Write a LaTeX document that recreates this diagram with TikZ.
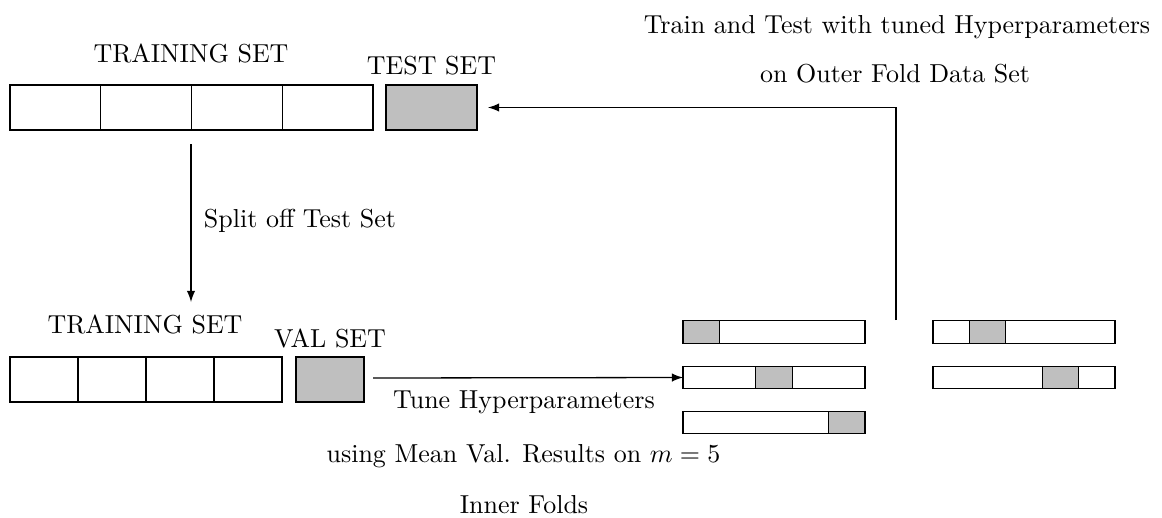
\documentclass[tikz,border=0pt]{standalone}
\usetikzlibrary{calc}
\def\pxu{0.385pt}
\tikzset{
  cell/.style={draw, line width=0.5pt, inner sep=0pt, outer sep=0pt},
  bigcell/.style={cell, minimum width=90.75*\pxu, minimum height=45*\pxu},
  smallcell/.style={cell, minimum width=68*\pxu, minimum height=45*\pxu},
  bar/.style={cell, minimum width=182*\pxu, minimum height=22.5*\pxu, anchor=west},
  seg/.style={cell, fill=gray!50, minimum width=36.4*\pxu, minimum height=22.5*\pxu, anchor=west},
  lbl/.style={inner sep=0pt, font=\normalsize, anchor=base},
  conn/.style={line width=0.5pt, -latex},
}
\begin{document}
\begin{tikzpicture}[x=0.385pt, y=-0.385pt]
\useasboundingbox (0,0) rectangle (1162,517);
% top row
\node[bigcell] (t1) at (55.4,107.5) {};
\node[bigcell] (t2) at (146.1,107.5) {};
\node[bigcell] (t3) at (236.9,107.5) {};
\node[bigcell] (t4) at (327.6,107.5) {};
\node[bigcell, fill=gray!50, minimum width=91*\pxu] (test) at (431.5,107.5) {};
\node[lbl] (trlbl1) at (191,62) {TRAINING SET};
\node[lbl] (testlbl) at (431.5,74) {TEST SET};
% bottom row
\node[smallcell] (b1) at (44,379.5) {};
\node[smallcell] (b2) at (112,379.5) {};
\node[smallcell] (b3) at (180,379.5) {};
\node[smallcell] (b4) at (248,379.5) {};
\node[smallcell, fill=gray!50] (val) at (330,379.5) {};
\node[lbl] (trlbl2) at (145,333) {TRAINING SET};
\node[lbl] (vallbl) at (330,347) {VAL SET};
% fold bars
\node[bar] (L1) at (683,332) {};
\node[seg] (L1g) at (683,332) {};
\node[bar] (L2) at (683,377.5) {};
\node[seg] (L2g) at (755.8,377.5) {};
\node[bar] (L3) at (683,422.5) {};
\node[seg] (L3g) at (828.6,422.5) {};
\node[bar] (R1) at (933,332) {};
\node[seg] (R1g) at (969.4,332) {};
\node[bar] (R2) at (933,377.5) {};
\node[seg] (R2g) at (1042.2,377.5) {};
% texts
\node[lbl] (split) at (300,227) {Split off Test Set};
\node[lbl] (tune) at (524,408) {Tune Hyperparameters};
\node[lbl] (mean) at (523.5,462) {using Mean Val. Results on $m=5$};
\node[lbl] (inner) at (524,513) {Inner Folds};
\node[lbl] (train) at (897,33) {Train and Test with tuned Hyperparameters};
\node[lbl] (outer) at (895,82) {on Outer Fold Data Set};
% connectors
\coordinate (s1) at (191,144);
\coordinate (e1) at (191,302);
\draw[conn] (s1) -- (e1);
\coordinate (s2) at (373,378);
\draw[conn] (s2) -- (L2.west);
\coordinate (s3) at (896,320);
\coordinate (e3) at (488,107.5);
\draw[conn] (s3) |- (e3);
\end{tikzpicture}
\end{document}
